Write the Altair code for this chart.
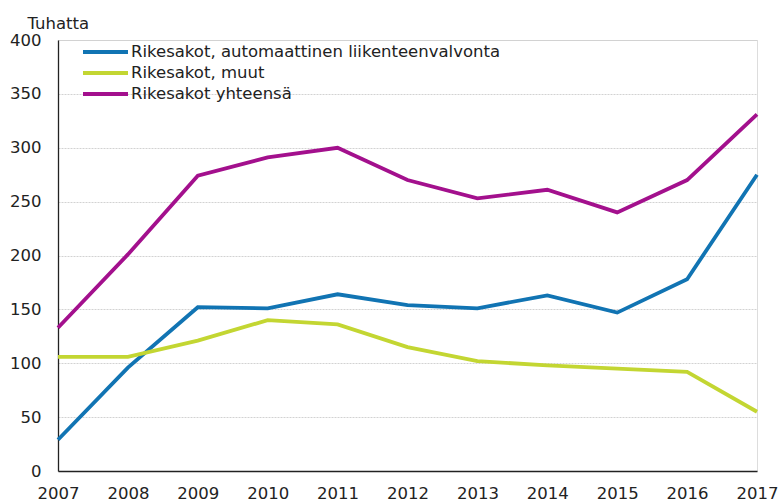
import altair as alt
import pandas as pd

years = [2007, 2008, 2009, 2010, 2011, 2012, 2013, 2014, 2015, 2016, 2017]
automaattinen = [29, 96, 152, 151, 164, 154, 151, 163, 147, 178, 275]
muut = [106, 106, 121, 140, 136, 115, 102, 98, 95, 92, 55]
yhteensa = [133, 201, 274, 291, 300, 270, 253, 261, 240, 270, 331]

series_names = [
    "Rikesakot, automaattinen liikenteenvalvonta",
    "Rikesakot, muut",
    "Rikesakot yhteensä",
]
colors = ["#1174b3", "#c3d632", "#a3108d"]

rows = []
for name, vals in zip(series_names, [automaattinen, muut, yhteensa]):
    for y, v in zip(years, vals):
        rows.append({"Vuosi": y, "Arvo": v, "Sarja": name})
df = pd.DataFrame(rows)

FONT = "DejaVu Sans"
FS = 16.5

chart = alt.Chart(df).mark_line(strokeWidth=3.8, strokeJoin="miter").encode(
    x=alt.X(
        "Vuosi:Q",
        scale=alt.Scale(domain=[2007, 2017], nice=False, zero=False),
        axis=alt.Axis(
            values=years,
            format="d",
            title=None,
            grid=False,
            ticks=False,
            labelPadding=14,
            labelFont=FONT,
            labelFontSize=FS,
            labelColor="#222222",
            domainColor="#222222",
            domainWidth=1.3,
            labelOverlap=False,
            labelFlush=False,
        ),
    ),
    y=alt.Y(
        "Arvo:Q",
        scale=alt.Scale(domain=[0, 400], nice=False),
        axis=alt.Axis(
            values=[0, 50, 100, 150, 200, 250, 300, 350, 400],
            title="Tuhatta",
            titleAngle=0,
            titleAlign="left",
            titleBaseline="alphabetic",
            titleX=-31,
            titleY=-12,
            titleFont=FONT,
            titleFontSize=FS,
            titleFontWeight="normal",
            titleColor="#222222",
            ticks=False,
            labelPadding=17,
            labelFont=FONT,
            labelFontSize=FS,
            labelColor="#222222",
            domainColor="#222222",
            domainWidth=1.3,
            grid=True,
            gridColor="#d2d2d2",
            gridDash={"condition": {"test": "datum.value === 400", "value": []}, "value": [2, 1]},
            gridWidth=1,
            labelFlush=False,
        ),
    ),
    color=alt.Color(
        "Sarja:N",
        scale=alt.Scale(domain=series_names, range=colors),
        sort=series_names,
        legend=alt.Legend(
            title=None,
            orient="none",
            legendX=23,
            legendY=1.5,
            padding=0,
            symbolType="stroke",
            symbolSize=2025,
            symbolStrokeWidth=4,
            clipHeight=21,
            rowPadding=0,
            labelOffset=1,
            labelFont=FONT,
            labelFontSize=FS,
            labelColor="#222222",
            labelLimit=600,
        ),
    ),
).properties(
    width=699,
    height=431,
    autosize=alt.AutoSizeParams(type="none"),
    padding={"left": 58, "top": 40, "right": 24, "bottom": 31},
).configure_view(stroke=None).configure(background="white")

chart.save("out.html", embed_options={"renderer": "svg", "actions": False})
